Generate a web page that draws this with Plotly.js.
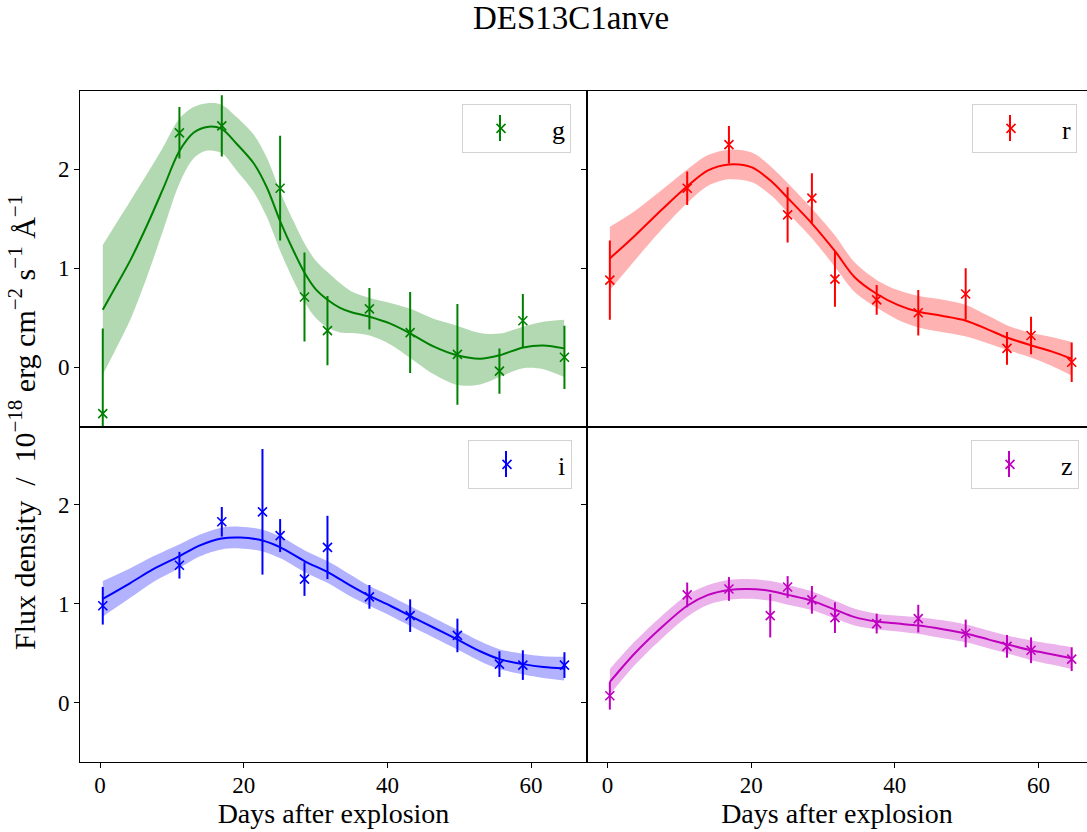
<!DOCTYPE html>
<html>
<head>
<meta charset="utf-8">
<script src="https://cdn.plot.ly/plotly-3.0.1.min.js"></script>
<style>
html,body{margin:0;padding:0;background:#fff;}
#chart{width:1087px;height:832px;}
</style>
</head>
<body>
<div id="chart"></div>
<script>
// ---------- data ----------
const bandNames = ['g', 'r', 'i', 'z'];
const bandColors = ['#008000', '#ff0000', '#0000ff', '#bf00bf'];
const bandFills = ['rgba(0,128,0,0.3)', 'rgba(255,0,0,0.3)', 'rgba(0,0,255,0.3)', 'rgba(191,0,191,0.3)'];
const xTickVals = [0, 20, 40, 60];
const yTickVals = [0, 1, 2];

// observations
const g_day  = [0.37, 11.04, 16.94, 25.06, 28.45, 31.65, 37.49, 43.16, 49.74, 55.59, 58.85, 64.64];
const g_flux = [-0.47, 2.37, 2.44, 1.81, 0.71, 0.37, 0.59, 0.35, 0.13, -0.04, 0.47, 0.10];
const g_err  = [0.86, 0.26, 0.31, 0.53, 0.45, 0.35, 0.21, 0.41, 0.51, 0.23, 0.27, 0.32];

const r_day  = [0.32, 11.09, 16.9, 25.07, 28.45, 31.66, 37.47, 43.26, 49.86, 55.61, 58.96, 64.62];
const r_flux = [0.88, 1.81, 2.25, 1.54, 1.71, 0.89, 0.68, 0.55, 0.74, 0.19, 0.32, 0.05];
const r_err  = [0.40, 0.17, 0.19, 0.28, 0.25, 0.28, 0.15, 0.23, 0.26, 0.165, 0.19, 0.20];

const i_day  = [0.37, 11.04, 16.94, 22.6, 25.06, 28.45, 31.65, 37.49, 43.16, 49.74, 55.59, 58.85, 64.64];
const i_flux = [0.98, 1.39, 1.83, 1.93, 1.69, 1.25, 1.57, 1.07, 0.88, 0.68, 0.39, 0.38, 0.38];
const i_err  = [0.19, 0.135, 0.15, 0.635, 0.167, 0.17, 0.32, 0.12, 0.165, 0.17, 0.13, 0.15, 0.13];

const z_day  = [0.32, 11.09, 16.9, 22.65, 25.07, 28.45, 31.66, 37.47, 43.26, 49.86, 55.61, 58.96, 64.62];
const z_flux = [0.07, 1.09, 1.15, 0.88, 1.17, 1.04, 0.86, 0.80, 0.85, 0.70, 0.57, 0.53, 0.44];
const z_err  = [0.14, 0.125, 0.12, 0.22, 0.11, 0.14, 0.155, 0.10, 0.14, 0.14, 0.115, 0.13, 0.12];

// model fit (mean and 1-sigma half width)
const g_fit_day  = [0.37, 2.3, 4.2, 6.5, 8.8, 11.0, 13.0, 14.9, 16.9, 19.0, 21.4, 23.2, 25.1, 26.9, 28.5, 30.0, 31.7, 33.4, 35.0, 37.5, 40.4, 43.2, 46.4, 49.7, 52.9, 55.6, 58.9, 61.7, 64.6];
const g_fit_mean = [0.58, 0.83, 1.08, 1.43, 1.81, 2.18, 2.37, 2.43, 2.41, 2.26, 2.06, 1.82, 1.47, 1.18, 0.95, 0.79, 0.68, 0.60, 0.555, 0.51, 0.44, 0.34, 0.21, 0.12, 0.085, 0.12, 0.20, 0.22, 0.19];
const g_fit_sig  = [0.655, 0.63, 0.60, 0.52, 0.42, 0.33, 0.26, 0.24, 0.245, 0.27, 0.29, 0.30, 0.30, 0.30, 0.295, 0.29, 0.28, 0.25, 0.21, 0.19, 0.21, 0.25, 0.28, 0.30, 0.26, 0.22, 0.21, 0.24, 0.29];

const r_fit_day  = [0.32, 3.8, 7.5, 11.1, 14.0, 16.9, 20.1, 22.8, 25.1, 28.5, 31.7, 34.4, 37.5, 40.4, 43.3, 46.5, 49.9, 53.0, 55.6, 59.0, 61.8, 64.6];
const r_fit_mean = [1.10, 1.33, 1.59, 1.83, 1.99, 2.05, 2.02, 1.88, 1.71, 1.45, 1.17, 0.91, 0.74, 0.63, 0.56, 0.52, 0.47, 0.38, 0.30, 0.22, 0.16, 0.085];
const r_fit_sig  = [0.32, 0.25, 0.20, 0.17, 0.155, 0.15, 0.15, 0.145, 0.15, 0.15, 0.16, 0.15, 0.14, 0.15, 0.16, 0.165, 0.16, 0.14, 0.125, 0.125, 0.145, 0.17];

const i_fit_day  = [0.37, 4.2, 7.4, 11.0, 13.9, 16.9, 19.5, 22.6, 25.1, 28.5, 31.7, 34.5, 37.5, 40.4, 43.2, 46.4, 49.7, 52.9, 55.6, 58.9, 61.7, 64.6];
const i_fit_mean = [1.05, 1.21, 1.35, 1.48, 1.59, 1.66, 1.67, 1.64, 1.57, 1.43, 1.32, 1.20, 1.08, 0.98, 0.875, 0.76, 0.64, 0.52, 0.44, 0.39, 0.36, 0.345];
const i_fit_sig  = [0.18, 0.15, 0.13, 0.12, 0.11, 0.11, 0.11, 0.11, 0.11, 0.11, 0.11, 0.11, 0.10, 0.10, 0.10, 0.10, 0.10, 0.10, 0.10, 0.105, 0.11, 0.12];

const z_fit_day  = [0.32, 3.8, 7.5, 11.1, 14.0, 16.9, 19.6, 22.7, 25.1, 28.5, 31.7, 34.4, 37.5, 40.4, 43.3, 46.5, 49.9, 53.0, 55.6, 59.0, 61.8, 64.6];
const z_fit_mean = [0.21, 0.50, 0.76, 0.98, 1.09, 1.14, 1.15, 1.13, 1.09, 1.03, 0.94, 0.865, 0.82, 0.80, 0.78, 0.745, 0.70, 0.64, 0.59, 0.53, 0.49, 0.45];
const z_fit_sig  = [0.13, 0.12, 0.115, 0.11, 0.10, 0.10, 0.10, 0.10, 0.10, 0.095, 0.09, 0.085, 0.08, 0.08, 0.085, 0.09, 0.09, 0.09, 0.09, 0.10, 0.105, 0.11];

const figTitle = 'DES13C1anve';
const xLabel = 'Days after explosion';
const yLabel = 'Flux density\u00a0 /\u00a0 10<sup>\u221218</sup> erg cm<sup>\u22122</sup> s<sup>\u22121</sup> \u00c5<sup>\u22121</sup>';

// ---------- drawing ----------
const obs = [[g_day, g_flux, g_err], [r_day, r_flux, r_err], [i_day, i_flux, i_err], [z_day, z_flux, z_err]];
const fits = [[g_fit_day, g_fit_mean, g_fit_sig], [r_fit_day, r_fit_mean, r_fit_sig], [i_fit_day, i_fit_mean, i_fit_sig], [z_fit_day, z_fit_mean, z_fit_sig]];
const axSuffix = ['', '2', '3', '4'];
const legendIds = ['legend', 'legend2', 'legend3', 'legend4'];

const FONT = '"Liberation Serif", "Times New Roman", serif';
const SMOOTH = 0.9;
const traces = [];
bandNames.forEach((b, k) => {
  const xa = 'x' + axSuffix[k], ya = 'y' + axSuffix[k];
  const [fd, fm, fs] = fits[k];
  traces.push({x: fd, y: fm.map((m, j) => m - fs[j]), xaxis: xa, yaxis: ya, mode: 'lines',
    line: {width: 0, shape: 'spline', smoothing: SMOOTH, color: bandFills[k]}, showlegend: false, hoverinfo: 'skip'});
  traces.push({x: fd, y: fm.map((m, j) => m + fs[j]), xaxis: xa, yaxis: ya, mode: 'lines', fill: 'tonexty',
    fillcolor: bandFills[k], line: {width: 0, shape: 'spline', smoothing: SMOOTH, color: bandFills[k]}, showlegend: false, hoverinfo: 'skip'});
  traces.push({x: fd, y: fm, xaxis: xa, yaxis: ya, mode: 'lines',
    line: {width: 2, shape: 'spline', smoothing: SMOOTH, color: bandColors[k]}, showlegend: false});
  const [d, f, e] = obs[k];
  traces.push({x: d, y: f, xaxis: xa, yaxis: ya, mode: 'markers', name: '\u00a0\u00a0' + b, legend: legendIds[k],
    marker: {symbol: 'x-thin', size: 9, line: {width: 1.6, color: bandColors[k]}, color: bandColors[k]},
    error_y: {type: 'data', array: e, visible: true, color: bandColors[k], thickness: 2, width: 0},
    cliponaxis: true});
});

// figure geometry (pixels)
const PL = 80, PW = 1007, PT = 91, PH = 671;
const splitX = 507 / PW;
const xRangeL = [-2.8, 67.78];
const xRangeR = [-2.86, 66.75];
const yRange = [-0.6, 2.793];
const px2x = p => (p - PL) / PW;
const py2y = p => (PT + PH - p) / PH;

function xax(domain, range, bottom) {
  const a = {domain: domain, range: range, tickvals: xTickVals, showgrid: false, zeroline: false,
    showline: true, mirror: true, linecolor: '#000', linewidth: 1,
    ticks: bottom ? 'outside' : '', ticklen: 5, tickwidth: 1, tickcolor: '#000',
    showticklabels: bottom, ticklabelstandoff: -3, tickfont: {family: FONT, size: 23, color: '#000'}};
  if (bottom) a.title = {text: xLabel, font: {family: FONT, size: 28, color: '#000'}, standoff: 5};
  return a;
}
function yax(domain, left, anchor) {
  return {domain: domain, range: yRange, anchor: anchor, tickvals: yTickVals, showgrid: false, zeroline: false,
    showline: true, mirror: left, linecolor: '#000', linewidth: 1,
    ticks: 'outside', ticklen: 5, tickwidth: 1, tickcolor: '#000',
    showticklabels: left, tickfont: {family: FONT, size: 23, color: '#000'}};
}
const ITEMW = 66;
// legend boxes: left edge and top edge in pixels
const legendBoxes = [[462, 104], [972, 104], [468, 440], [971, 440]];
function leg(k) {
  const [lx, ty] = legendBoxes[k];
  return {x: px2x(lx), y: py2y(ty), xanchor: 'left', yanchor: 'top', bgcolor: 'rgba(255,255,255,0)',
    bordercolor: '#d3d3d3', borderwidth: 1, font: {family: FONT, size: 26, color: '#000'}, itemwidth: ITEMW};
}
// vertical error-bar stroke of each legend glyph
const legendShapes = legendBoxes.map(([lx, ty], k) => ({
  type: 'line', xref: 'paper', yref: 'paper',
  x0: px2x(lx + (ITEMW + 10) / 2), x1: px2x(lx + (ITEMW + 10) / 2),
  y0: py2y(ty + 11), y1: py2y(ty + 37),
  line: {color: bandColors[k], width: 2}, layer: 'above'}));

const layout = {
  width: 1087, height: 832,
  font: {family: FONT, color: '#000'},
  margin: {l: PL, r: 0, t: PT, b: 832 - PT - PH, pad: 0},
  paper_bgcolor: '#fff', plot_bgcolor: '#fff',
  title: {text: figTitle, font: {family: FONT, size: 33, color: '#000'}, x: 571 / 1087, xref: 'container', xanchor: 'center',
    y: 1 - 17 / 832, yref: 'container', yanchor: 'middle'},
  xaxis: Object.assign(xax([0, splitX], xRangeL, false), {anchor: 'y'}),
  xaxis2: Object.assign(xax([splitX, 1], xRangeR, false), {anchor: 'y2'}),
  xaxis3: Object.assign(xax([0, splitX], xRangeL, true), {anchor: 'y3'}),
  xaxis4: Object.assign(xax([splitX, 1], xRangeR, true), {anchor: 'y4'}),
  yaxis: yax([0.5, 1], true, 'x'),
  yaxis2: yax([0.5, 1], false, 'x2'),
  yaxis3: yax([0, 0.5], true, 'x3'),
  yaxis4: yax([0, 0.5], false, 'x4'),
  legend: leg(0), legend2: leg(1), legend3: leg(2), legend4: leg(3),
  shapes: legendShapes,
  annotations: [{text: yLabel, textangle: -90, xref: 'paper', yref: 'paper', x: px2x(22), y: py2y(423),
    xanchor: 'center', yanchor: 'middle', showarrow: false, font: {family: FONT, size: 30, color: '#000'}}]
};

Plotly.newPlot('chart', traces, layout, {staticPlot: true, displayModeBar: false});
</script>
</body>
</html>
